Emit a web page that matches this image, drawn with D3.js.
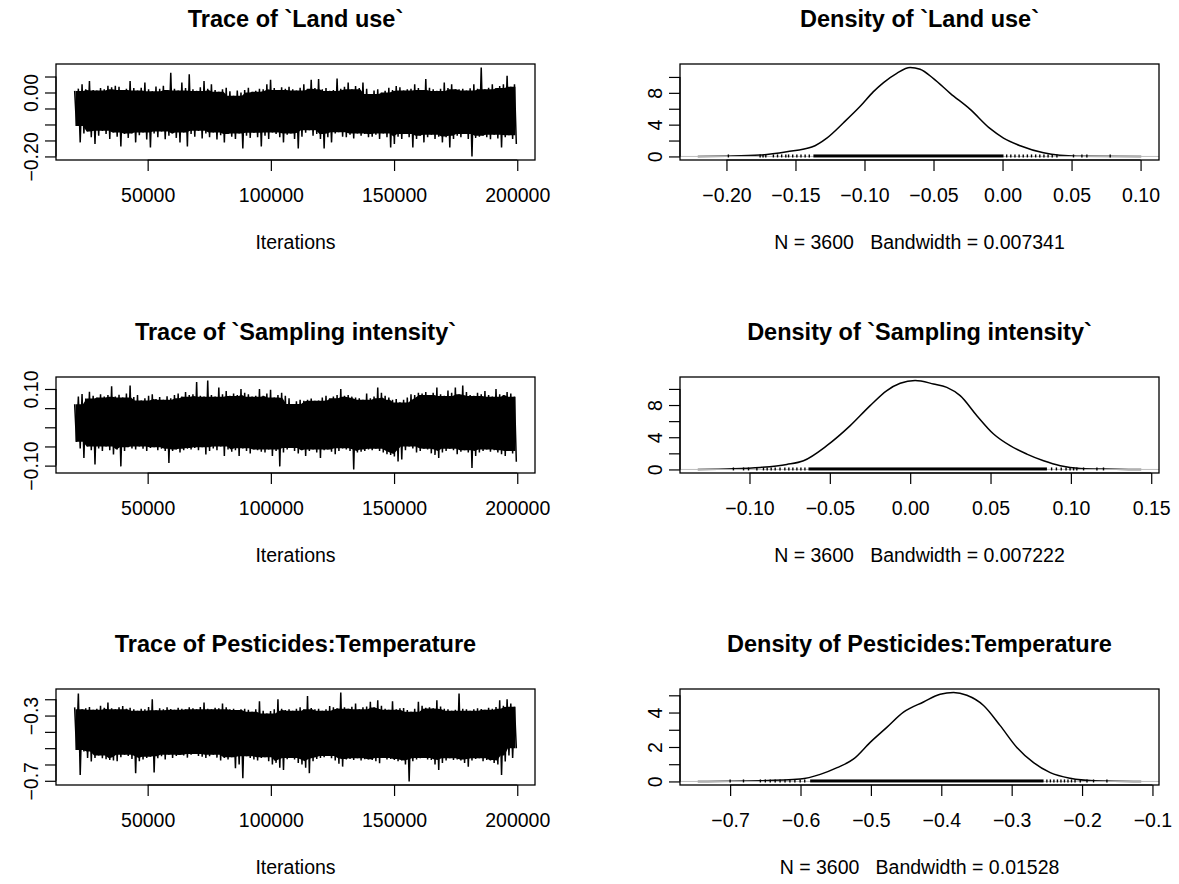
<!DOCTYPE html>
<html><head><meta charset="utf-8">
<script src="https://cdn.jsdelivr.net/npm/d3@7"></script>
<style>
body{margin:0;background:#fff}
svg{display:block}
text{font-family:"Liberation Sans",Arial,Helvetica,sans-serif}
</style>
</head><body>
<svg id="chart" width="1179" height="884"></svg>
<script>
// ---------------- DATA ----------------
const paramNames = ["`Land use`", "`Sampling intensity`", "Pesticides:Temperature"];
const iterStart = 20000, iterEnd = 200000;
const nSamples = 3600;
const bandwidths = ["0.007341", "0.007222", "0.01528"];

// Trace envelopes: per-bin max / min (thousandths), 120 bins of 1500 iterations
const traceLandUseHi = [5,12,26,10,36,8,6,14,10,21,16,21,18,8,12,36,14,6,15,31,10,4,19,12,21,8,62,12,6,31,14,57,10,5,16,36,12,26,8,2,10,15,4,-10,6,0,8,15,2,5,12,10,26,40,14,8,16,12,18,10,6,15,26,12,40,14,42,10,14,5,8,44,12,18,31,10,20,14,31,12,-5,6,10,0,5,15,8,20,16,6,10,12,26,14,8,42,15,10,5,12,31,14,26,10,10,12,6,13,26,12,78,10,15,26,14,20,26,52,18,26];
const traceLandUseLo = [-105,-156,-128,-122,-140,-161,-135,-120,-130,-145,-125,-138,-169,-130,-142,-128,-156,-134,-125,-147,-172,-128,-140,-122,-146,-135,-128,-142,-156,-125,-169,-130,-138,-120,-144,-128,-140,-125,-147,-134,-156,-130,-138,-145,-128,-175,-135,-142,-126,-140,-169,-135,-145,-125,-130,-140,-156,-132,-128,-145,-175,-138,-126,-118,-135,-130,-145,-175,-140,-156,-128,-124,-138,-140,-132,-144,-128,-135,-130,-140,-138,-132,-145,-128,-140,-172,-161,-138,-145,-130,-140,-172,-145,-135,-156,-140,-132,-145,-138,-156,-140,-172,-145,-135,-140,-130,-145,-200,-142,-138,-135,-140,-146,-132,-144,-172,-140,-134,-145,-161];
const traceSamplingHi = [60,80,87,75,93,82,78,86,80,84,107,80,85,78,88,109,79,84,70,76,82,86,74,79,72,81,76,84,88,80,92,84,86,118,82,80,122,84,80,104,86,95,82,88,84,100,90,86,80,82,100,82,88,98,78,84,90,82,76,61,68,72,69,72,75,69,70,78,82,76,80,84,100,82,84,80,78,76,72,88,76,80,104,90,82,78,72,74,65,72,78,86,84,90,88,92,84,90,104,86,82,96,90,104,86,109,92,84,82,90,86,95,84,80,100,86,84,92,88,80];
const traceSamplingLo = [-38,-55,-80,-50,-60,-97,-55,-62,-50,-60,-71,-58,-102,-62,-52,-55,-58,-50,-56,-62,-54,-52,-60,-56,-62,-93,-62,-58,-66,-60,-56,-58,-54,-60,-52,-71,-62,-55,-60,-50,-75,-58,-64,-60,-75,-55,-62,-68,-58,-60,-64,-66,-58,-75,-62,-102,-66,-58,-54,-62,-68,-60,-75,-62,-58,-66,-80,-60,-58,-64,-70,-62,-55,-58,-62,-110,-66,-64,-62,-58,-60,-56,-62,-66,-70,-72,-76,-89,-84,-60,-50,-55,-66,-62,-56,-58,-68,-72,-80,-66,-62,-56,-60,-70,-64,-60,-66,-106,-75,-66,-62,-58,-64,-60,-66,-70,-75,-62,-68,-90];
const tracePestTempHi = [-250,-165,-262,-255,-248,-265,-258,-240,-252,-220,-256,-262,-250,-242,-258,-252,-262,-270,-258,-262,-248,-200,-268,-255,-262,-250,-260,-264,-252,-258,-262,-250,-256,-262,-248,-220,-258,-262,-252,-256,-226,-250,-262,-258,-266,-262,-258,-264,-277,-262,-212,-270,-287,-272,-262,-200,-258,-266,-262,-270,-258,-250,-262,-180,-254,-262,-258,-270,-262,-242,-250,-256,-159,-250,-258,-246,-226,-262,-250,-244,-216,-250,-206,-240,-258,-264,-212,-262,-256,-254,-266,-277,-258,-216,-240,-252,-250,-256,-206,-244,-258,-262,-270,-264,-165,-258,-262,-270,-262,-256,-260,-264,-252,-258,-248,-206,-240,-200,-226,-246];
const tracePestTempLo = [-511,-664,-520,-560,-582,-560,-545,-562,-568,-572,-575,-580,-556,-540,-548,-566,-653,-580,-570,-560,-552,-649,-562,-550,-570,-540,-560,-548,-542,-545,-558,-540,-535,-548,-552,-560,-550,-540,-558,-575,-560,-570,-556,-623,-600,-684,-550,-560,-570,-575,-560,-556,-580,-600,-590,-620,-633,-568,-560,-570,-590,-600,-620,-653,-580,-566,-560,-556,-548,-562,-575,-596,-613,-570,-566,-572,-562,-575,-568,-570,-572,-580,-592,-560,-570,-566,-572,-580,-575,-600,-704,-580,-570,-562,-560,-570,-572,-600,-633,-590,-575,-562,-572,-570,-575,-590,-613,-575,-566,-562,-580,-572,-575,-590,-600,-664,-582,-545,-560,-500];

// Density curves (x, density)
const densLandUseX = [-0.2208,-0.1998,-0.1756,-0.1563,-0.1382,-0.1273,-0.1152,-0.1031,-0.0935,-0.0862,-0.0766,-0.0669,-0.0597,-0.05,-0.0379,-0.0234,-0.0089,0.0007,0.0128,0.0297,0.0539,0.1005];
const densLandUseY = [0,0.04,0.17,0.59,1.18,2.31,4.24,6.30,8.15,9.29,10.46,11.18,10.97,9.79,7.94,5.92,3.49,2.31,1.34,0.46,0.04,0];
const densSamplingX = [-0.1322,-0.110,-0.0934,-0.0768,-0.0664,-0.0519,-0.0373,-0.0249,-0.0145,-0.0062,0.0031,0.0145,0.0228,0.0311,0.0415,0.0519,0.0622,0.0726,0.083,0.0934,0.1058,0.1203,0.1438];
const densSamplingY = [0,0.08,0.25,0.62,1.08,2.95,5.44,7.93,9.8,10.7,11.04,10.62,10.2,9.17,6.68,4.4,2.95,1.91,1.08,0.46,0.12,0.04,0];
const densPestTempX = [-0.746,-0.657,-0.6005,-0.572,-0.548,-0.525,-0.501,-0.4774,-0.4537,-0.4253,-0.4016,-0.3826,-0.3637,-0.340,-0.3163,-0.2926,-0.2689,-0.2452,-0.2168,-0.1837,-0.1159];
const densPestTempY = [0,0.04,0.14,0.41,0.8,1.29,2.27,3.14,4.02,4.61,5.06,5.16,5.0,4.41,3.24,1.97,1.09,0.51,0.18,0.04,0];

// Observation rugs: dense interval + isolated observations
const rugLandUseDense = [-0.137, 0.0007];
const rugLandUsePts = [-0.1986,-0.1756,-0.1735,-0.1715,-0.166,-0.163,-0.160,-0.157,-0.155,-0.152,-0.149,-0.146,-0.143,-0.140,0.003,0.006,0.009,0.012,0.015,0.018,0.021,0.024,0.027,0.030,0.033,0.036,0.0394,0.0514,0.0575,0.0611,0.078];
const rugSamplingDense = [-0.0633, 0.0851];
const rugSamplingPts = [-0.110,-0.1037,-0.1006,-0.0954,-0.0913,-0.089,-0.0865,-0.084,-0.081,-0.078,-0.0755,-0.073,-0.0705,-0.068,-0.0655,0.088,0.091,0.094,0.097,0.0995,0.1017,0.1037,0.1079,0.1162,0.1203];
const rugPestTempDense = [-0.5863, -0.2547];
const rugPestTempPts = [-0.70,-0.681,-0.657,-0.65,-0.643,-0.636,-0.629,-0.622,-0.615,-0.608,-0.6005,-0.594,-0.25,-0.245,-0.24,-0.235,-0.23,-0.225,-0.22,-0.215,-0.21,-0.2026,-0.193,-0.1837,-0.1647];

// Tick values and which ones carry labels
const traceXTicks = [50000, 100000, 150000, 200000];
const traceYTicks = [[-0.20,-0.15,-0.10,-0.05,0.00,0.05],[-0.10,-0.05,0.00,0.05,0.10],[-0.7,-0.6,-0.5,-0.4,-0.3,-0.2]];
const traceYLabeled = [[-0.20,0.00],[-0.10,0.10],[-0.7,-0.3]];
const densXTicks = [[-0.20,-0.15,-0.10,-0.05,0.00,0.05,0.10],[-0.10,-0.05,0.00,0.05,0.10,0.15],[-0.7,-0.6,-0.5,-0.4,-0.3,-0.2,-0.1]];
const densYTicks = [[0,2,4,6,8,10],[0,2,4,6,8,10],[0,1,2,3,4,5]];
const densYLabeled = [[0,4,8],[0,4,8],[0,2,4]];
const tickDecimals = [2, 2, 1];

// ---------------- LAYOUT ----------------
const traceLeft = 56, densLeft = 680, boxW = 479, boxH = 96;
const rowTops = [64, 377, 689];
const fontAxis = 19.5, fontTitle = 23.5;

const svg = d3.select("#chart");
const traces = [[traceLandUseHi, traceLandUseLo],[traceSamplingHi, traceSamplingLo],[tracePestTempHi, tracePestTempLo]];
const denss = [[densLandUseX, densLandUseY],[densSamplingX, densSamplingY],[densPestTempX, densPestTempY]];
const rugs = [[rugLandUseDense, rugLandUsePts],[rugSamplingDense, rugSamplingPts],[rugPestTempDense, rugPestTempPts]];

function ext4(lo, hi){ const r = hi - lo; return [lo - 0.04*r, hi + 0.04*r]; }
const has = (arr, v) => arr.some(a => Math.abs(a - v) < 1e-9);

function styleAxis(g){
  g.attr("font-size", fontAxis).attr("font-family", '"Liberation Sans",Arial,Helvetica,sans-serif');
  g.selectAll("line").attr("stroke", "#000").attr("stroke-width", 1.2);
  g.select(".domain").attr("stroke", "#000").attr("stroke-width", 1.2);
  g.selectAll("text").attr("fill", "#000");
}
function drawXAxis(g, scale, ticks, fmt, top){
  const ax = g.append("g").attr("transform", `translate(0,${top + boxH})`)
    .call(d3.axisBottom(scale).tickValues(ticks).tickFormat(fmt).tickSizeOuter(0).tickSize(11));
  styleAxis(ax);
  ax.select(".domain").attr("d", `M${scale(ticks[0])},0H${scale(ticks[ticks.length-1])}`);
  ax.selectAll("text").attr("y", 42).attr("dy", 0);
}
function drawYAxis(g, scale, ticks, labeled, fmt, left){
  const ax = g.append("g").attr("transform", `translate(${left},0)`)
    .call(d3.axisLeft(scale).tickValues(ticks).tickFormat(d => has(labeled, d) ? fmt(d) : "").tickSizeOuter(0).tickSize(11));
  styleAxis(ax);
  const yr = ticks.map(scale);
  ax.select(".domain").attr("d", `M0,${d3.max(yr)}V${d3.min(yr)}`);
  ax.selectAll("text").attr("x", 0).attr("y", -18).attr("dy", 0)
    .attr("text-anchor", "middle").attr("transform", "rotate(-90)");
}
function drawBox(g, left, top){
  g.append("rect").attr("x", left).attr("y", top).attr("width", boxW).attr("height", boxH)
    .attr("fill", "none").attr("stroke", "#000").attr("stroke-width", 1.3);
}
function drawTitle(g, text, left, top){
  g.append("text").attr("x", left + boxW/2).attr("y", top - 37)
    .attr("text-anchor", "middle").attr("font-weight", "bold").attr("font-size", fontTitle).text(text);
}
function drawXLabel(g, text, left, top){
  g.append("text").attr("x", left + boxW/2).attr("y", top + boxH + 89)
    .attr("text-anchor", "middle").attr("font-size", fontAxis).style("white-space", "pre").text(text);
}

rowTops.forEach((top, r) => {
  const fmt = d3.format(`.${tickDecimals[r]}f`);
  // ---- Trace panel ----
  const [hi, lo] = traces[r];
  const hiV = hi.map(v => v/1000), loV = lo.map(v => v/1000);
  const n = hiV.length;
  const step = (iterEnd - iterStart) / n;
  const xT = d3.scaleLinear().domain(ext4(iterStart, iterEnd)).range([traceLeft, traceLeft + boxW]);
  const yT = d3.scaleLinear().domain(ext4(d3.min(loV), d3.max(hiV))).range([top + boxH, top]);
  const gT = svg.append("g");
  // solid core of the chain: band reached by every bin in a 5-bin window
  const core = hiV.map((h, i) => {
    const a = Math.max(0, i-2), b = Math.min(n, i+3);
    return {
      it: iterStart + step*(i + 0.5),
      top: d3.min(hiV.slice(a, b)),
      bot: d3.max(loV.slice(a, b))
    };
  });
  gT.append("path").datum(core)
    .attr("d", d3.area().x(d => xT(d.it)).y0(d => yT(d.bot)).y1(d => yT(d.top)))
    .attr("fill", "#000");
  // the chain itself, visiting each bin's max and min
  const pts = [];
  hiV.forEach((h, i) => {
    pts.push([iterStart + step*(i + 0.25), h]);
    pts.push([iterStart + step*(i + 0.75), loV[i]]);
  });
  gT.append("path").datum(pts)
    .attr("d", d3.line().x(d => xT(d[0])).y(d => yT(d[1])))
    .attr("fill", "none").attr("stroke", "#000").attr("stroke-width", 1.5).attr("stroke-linejoin", "miter");
  drawBox(gT, traceLeft, top);
  drawXAxis(gT, xT, traceXTicks, d3.format("d"), top);
  drawYAxis(gT, yT, traceYTicks[r], traceYLabeled[r], fmt, traceLeft);
  drawTitle(gT, "Trace of " + paramNames[r], traceLeft, top);
  drawXLabel(gT, "Iterations", traceLeft, top);

  // ---- Density panel ----
  const [dx, dy] = denss[r];
  const xD = d3.scaleLinear().domain(ext4(d3.min(dx), d3.max(dx))).range([densLeft, densLeft + boxW]);
  const yD = d3.scaleLinear().domain(ext4(0, d3.max(dy))).range([top + boxH, top]);
  const gD = svg.append("g");
  const dpts = dx.map((x, i) => [x, dy[i]]);
  gD.append("path").datum(dpts)
    .attr("d", d3.line().x(d => xD(d[0])).y(d => yD(d[1])).curve(d3.curveMonotoneX))
    .attr("fill", "none").attr("stroke", "#000").attr("stroke-width", 1.5);
  const y0 = yD(0);
  gD.append("line").attr("x1", densLeft).attr("x2", densLeft + boxW).attr("y1", y0).attr("y2", y0)
    .attr("stroke", "#bebebe").attr("stroke-width", 1);
  const [dense, rpts] = rugs[r];
  const rugH = Math.max(yD(0) - yD(d3.max(dy)/100), 1);
  gD.append("rect").attr("x", xD(dense[0])).attr("width", xD(dense[1]) - xD(dense[0]))
    .attr("y", y0 - rugH - 1).attr("height", rugH + 2).attr("fill", "#000");
  gD.selectAll(".rug").data(rpts).enter().append("line")
    .attr("x1", d => xD(d)).attr("x2", d => xD(d))
    .attr("y1", y0 + 1).attr("y2", y0 - rugH - 1)
    .attr("stroke", "#000").attr("stroke-width", 1.4);
  drawBox(gD, densLeft, top);
  drawXAxis(gD, xD, densXTicks[r], fmt, top);
  drawYAxis(gD, yD, densYTicks[r], densYLabeled[r], d3.format("d"), densLeft);
  drawTitle(gD, "Density of " + paramNames[r], densLeft, top);
  drawXLabel(gD, `N = ${nSamples}   Bandwidth = ${bandwidths[r]}`, densLeft, top);
});
</script>
</body></html>
